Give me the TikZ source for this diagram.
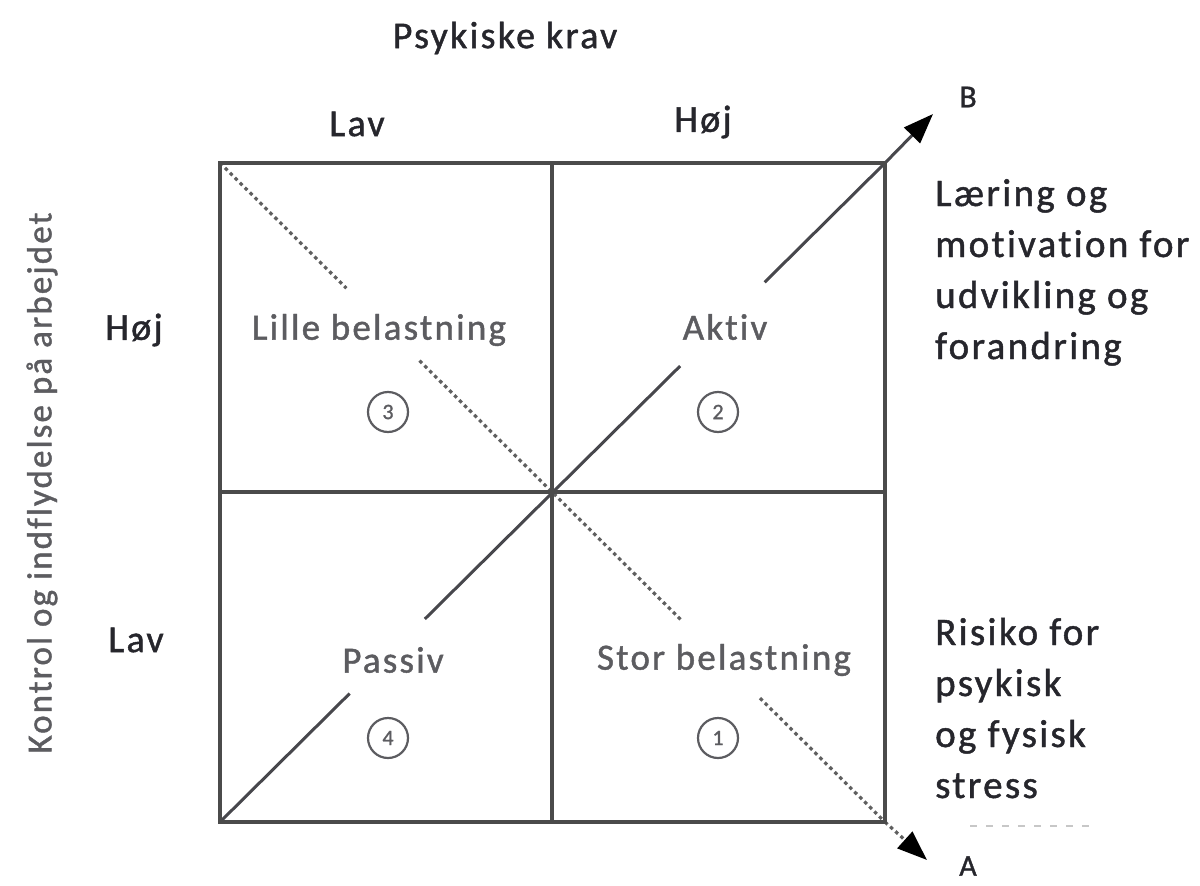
\documentclass[tikz,border=0pt]{standalone}
\usepackage{fontspec}
\setmainfont{Carlito}[LetterSpace=6,FakeBold=1.2,Ligatures={NoCommon}]
\usetikzlibrary{arrows.meta,calc}
\definecolor{frame}{RGB}{75,75,75}
\definecolor{labelgray}{RGB}{92,92,96}
\definecolor{dotgray}{RGB}{95,95,95}
\definecolor{inkdark}{RGB}{38,38,44}
\begin{document}
\begin{tikzpicture}[x=1pt,y=-1pt,
  frameline/.style={draw=frame,line width=3.2pt},
  diagsolid/.style={draw=inkdark!85,line width=3pt},
  diagdot/.style={draw=dotgray,line width=3.2pt,dash pattern=on 3.5pt off 3.5pt},
  quadlabel/.style={font=\fontsize{37}{44}\selectfont,text=labelgray,inner sep=0pt},
  axislabel/.style={font=\fontsize{38}{44}\selectfont,text=inkdark,inner sep=0pt},
  sidetext/.style={font=\fontsize{39}{51}\selectfont,text=inkdark,align=left,anchor=base west,inner sep=0pt},
  numcircle/.style={circle,draw=labelgray,line width=2.2pt,minimum size=40pt,inner sep=0pt,
    font=\fontsize{22}{22}\selectfont,text=labelgray},
  tip/.style={-{Triangle[length=30pt,width=22pt,color=black]}}
]
\useasboundingbox (0,0) rectangle (1200,886);

% corners of the grid
\coordinate (TL) at (220,163);
\coordinate (TR) at (885,163);
\coordinate (BL) at (220,822);
\coordinate (BR) at (885,822);
\coordinate (TM) at (552,163);
\coordinate (BM) at (552,822);
\coordinate (LM) at (220,492);
\coordinate (RM) at (885,492);
\coordinate (Bend) at (933,114);
\coordinate (Aend) at (927,860);

% dotted diagonal towards A, broken around the quadrant names
\draw[diagdot] (TL) -- ($(TL)!0.19!(BR)$);
\draw[diagdot] ($(TL)!0.30!(BR)$) -- ($(TL)!0.695!(BR)$);
\draw[diagdot] ($(TL)!0.812!(BR)$) -- (BR);
\draw[diagdot,tip] (BR) -- (Aend);

% solid diagonal towards B, broken around the quadrant names
\draw[diagsolid] (BL) -- ($(BL)!0.195!(TR)$);
\draw[diagsolid] ($(BL)!0.308!(TR)$) -- ($(BL)!0.692!(TR)$);
\draw[diagsolid] ($(BL)!0.819!(TR)$) -- (TR);
\draw[diagsolid,tip] (TR) -- (Bend);

% grid
\draw[frameline] (TL) rectangle (BR);
\draw[frameline] (TM) -- (BM);
\draw[frameline] (LM) -- (RM);

% quadrant names
\node[quadlabel] (q3) at (379,330) {Lille belastning};
\node[quadlabel] (q2) at (725,327) {Aktiv};
\node[quadlabel] (q4) at (393,660) {Passiv};
\node[quadlabel] (q1) at (724,660) {Stor belastning};

% circled numbers
\node[numcircle] (n3) at (388,412) {3};
\node[numcircle] (n2) at (718,412) {2};
\node[numcircle] (n4) at (388,738) {4};
\node[numcircle] (n1) at (718,738) {1};

% axis labels
\node[axislabel] (title) at (505,38) {Psykiske krav};
\node[axislabel] (lavtop) at (357,124) {Lav};
\node[axislabel] (hojtop) at (703,122) {Høj};
\node[axislabel] (hojleft) at (134,330) {Høj};
\node[axislabel] (lavleft) at (136,640) {Lav};
\node[font=\fontsize{35}{40}\selectfont,text=labelgray,rotate=90,inner sep=0pt] (yaxis) at (42,483)
  {Kontrol og indflydelse på arbejdet};
\node[font=\fontsize{32}{38}\selectfont,text=inkdark,inner sep=0pt] (labB) at (968,97) {B};
\node[font=\fontsize{30}{36}\selectfont,text=inkdark,inner sep=0pt] (labA) at (968,866) {A};

% outcome texts (anchored at the baseline of their last line)
\node[sidetext] (learn) at (935,359) {Læring og\\motivation for\\udvikling og\\forandring};
\node[sidetext] (risk) at (935,798) {Risiko for\\psykisk\\og fysisk\\stress};

% faint dotted trace under the risk text
\coordinate (dl) at (970,826);
\coordinate (dr) at (1093,826);
\draw[draw=black!22,line width=2pt,dash pattern=on 7pt off 9pt] (dl) -- (dr);
\end{tikzpicture}
\end{document}
